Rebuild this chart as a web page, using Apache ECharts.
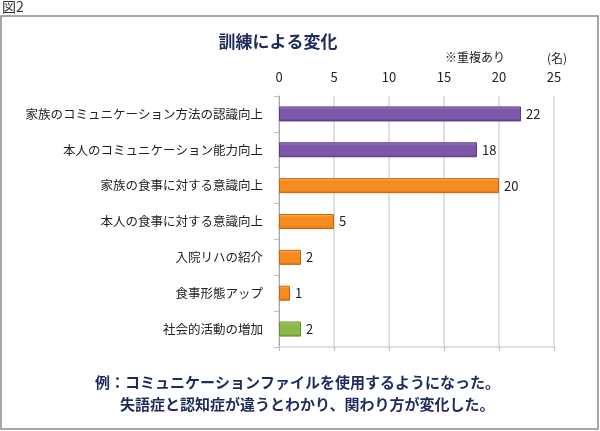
<!DOCTYPE html>
<html><head><meta charset="utf-8">
<script src="https://cdn.jsdelivr.net/npm/echarts@6/dist/echarts.min.js"></script>
<style>html,body{margin:0;padding:0;background:#fff}#c{width:600px;height:431px}</style>
</head><body><div id="c"></div>
<script>
const categories = ['家族のコミュニケーション方法の認識向上','本人のコミュニケーション能力向上','家族の食事に対する意識向上','本人の食事に対する意識向上','入院リハの紹介','食事形態アップ','社会的活動の増加'];
const values = [22, 18, 20, 5, 2, 1, 2];
const colorGroups = ['purple','purple','orange','orange','orange','orange','green'];
const tickLabels = ['0','5','10','15','20','25'];

const palette = {
  purple: {top:'#a88bd0', mid:'#7d58aa', bot:'#5f3f8a', edge:'#5a3c82'},
  orange: {top:'#fdbd6a', mid:'#f68b20', bot:'#d8700f', edge:'#c8650c'},
  green:  {top:'#b3d67a', mid:'#8cba4a', bot:'#6e9a33', edge:'#66902e'}
};
function grad(p){
  return new echarts.graphic.LinearGradient(0,0,0,1,[
    {offset:0,color:p.top},{offset:0.2,color:p.mid},{offset:0.8,color:p.mid},{offset:1,color:p.bot}]);
}
const font = '"Noto Sans CJK JP","Noto Sans",sans-serif';
const navy = '#1f2b5c';
const chart = echarts.init(document.getElementById('c'), null, {renderer:'canvas'});
chart.setOption({
  animation:false,
  backgroundColor:'#fff',
  textStyle:{fontFamily:font},
  grid:{left:279,right:46,top:96,bottom:84,containLabel:false},
  xAxis:[{
    type:'value', position:'top', min:0, max:25, interval:5,
    axisLine:{show:false}, axisTick:{show:false},
    splitLine:{show:true,lineStyle:{color:'#d6d6d6',width:1.5}},
    axisLabel:{margin:12,fontSize:13,color:'#222',fontFamily:font,
      formatter:(v)=>tickLabels[Math.round(v/5)]}
  },{
    type:'value', position:'bottom', min:0, max:25, interval:5,
    axisLine:{show:true,lineStyle:{color:'#d6d6d6',width:1.5}},
    axisTick:{show:true,length:4,lineStyle:{color:'#bbbbbb'}},
    splitLine:{show:false}, axisLabel:{show:false}
  }],
  yAxis:{
    type:'category', data:categories, inverse:true,
    axisLine:{show:true,lineStyle:{color:'#a8a8a8'}},
    axisTick:{show:true,length:5,lineStyle:{color:'#c0c0c0'}},
    axisLabel:{margin:16,fontSize:12.5,color:'#222',fontFamily:font}
  },
  series:[{
    type:'bar', xAxisIndex:0, barWidth:15,
    data: values.map((v,i)=>{
      const p = palette[colorGroups[i]];
      return {value:v, itemStyle:{color:grad(p), borderColor:p.edge, borderWidth:1}};
    }),
    label:{show:true,position:'right',distance:5,fontSize:13,color:'#222',fontFamily:font}
  }],
  graphic:[
    {type:'rect',shape:{x:1,y:16,width:597,height:413},style:{fill:'none',stroke:'#8a8a8a',lineWidth:1.5},silent:true},
    {type:'text',left:2,top:0,style:{text:'図2',fontSize:14,fill:'#333',fontFamily:font}},
    {type:'text',x:278,y:42,style:{text:'訓練による変化',fontSize:17,fontWeight:'bold',fill:navy,fontFamily:font,align:'center',verticalAlign:'middle'}},
    {type:'text',x:475,y:57,style:{text:'※重複あり',fontSize:12,fill:'#222',fontFamily:font,align:'center',verticalAlign:'middle'}},
    {type:'text',x:557,y:58,style:{text:'(名)',fontSize:12,fill:'#222',fontFamily:font,align:'center',verticalAlign:'middle'}},
    {type:'text',x:95,y:382,style:{text:'例：コミュニケーションファイルを使用するようになった。',fontSize:15,fontWeight:'bold',fill:navy,fontFamily:font,align:'left',verticalAlign:'middle'}},
    {type:'text',x:120,y:404,style:{text:'失語症と認知症が違うとわかり、関わり方が変化した。',fontSize:15,fontWeight:'bold',fill:navy,fontFamily:font,align:'left',verticalAlign:'middle'}}
  ]
});
</script></body></html>
